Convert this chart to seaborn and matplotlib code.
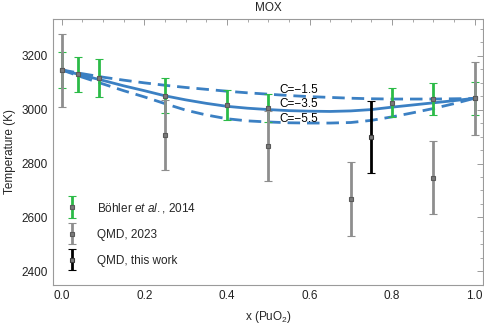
import numpy as np
import pandas as pd
import matplotlib
matplotlib.use("Agg")
import matplotlib.pyplot as plt
import seaborn as sns
from matplotlib.ticker import MultipleLocator
from matplotlib.legend_handler import HandlerErrorbar
from matplotlib.container import ErrorbarContainer

# ---- data ----
boehler_x = [0.0, 0.04, 0.09, 0.25, 0.40, 0.50, 0.80, 0.90, 1.0]
boehler_y = [3147, 3130, 3117, 3052, 3016, 3007, 3026, 3038, 3041]
boehler_err = [68, 65, 70, 64, 55, 52, 53, 60, 60]

qmd23_x = [0.0, 0.25, 0.50, 0.70, 0.90, 1.0]
qmd23_y = [3145, 2905, 2866, 2668, 2748, 3041]
qmd23_err = [136, 130, 130, 136, 136, 135]

qmd_x = [0.75]
qmd_y = [2898]
qmd_err = [135]

curve_x = [0.0, 0.05, 0.1, 0.15, 0.2, 0.25, 0.3, 0.35, 0.4, 0.45, 0.5,
           0.55, 0.6, 0.65, 0.7, 0.75, 0.8, 0.85, 0.9, 0.95, 1.0]
curve_c35 = [3147, 3127, 3108, 3088, 3070, 3051, 3036, 3023, 3012, 3005, 3000,
             2996, 2994, 2993, 2995, 3000, 3009, 3017, 3025, 3033, 3042]
curve_c15 = [3147, 3133, 3120, 3109, 3099, 3090, 3082, 3075, 3068, 3062, 3057,
             3052, 3048, 3045, 3042, 3040, 3039, 3039, 3039, 3040, 3041]
curve_c55 = [3147, 3120, 3095, 3070, 3047, 3022, 2998, 2980, 2966, 2958, 2954,
             2951, 2950, 2950, 2952, 2960, 2973, 2988, 3004, 3022, 3042]

curve_labels = ["C=\u22121.5", "C=\u22123.5", "C=\u22125.5"]
label_y = [3073, 3020, 2964]

# ---- style ----
sns.set_theme(style="white")
plt.rcParams['font.family'] = ['Liberation Sans', 'DejaVu Sans']
plt.rcParams['mathtext.fontset'] = 'custom'
plt.rcParams['mathtext.rm'] = 'Liberation Sans'
plt.rcParams['mathtext.it'] = 'Liberation Sans:italic'

BLUE = "#3b80c3"
GREEN = "#2cbb48"
GRAY = "#8e8e8e"
FRAME = "#9a9a9a"

fig = plt.figure(figsize=(4.84, 3.26), dpi=100)
ax = fig.add_axes([0.1095, 0.126, 0.8885, 0.816])

df = pd.DataFrame({"x": curve_x * 3,
                   "T": curve_c15 + curve_c35 + curve_c55,
                   "C": ["-1.5"] * len(curve_x) + ["-3.5"] * len(curve_x) + ["-5.5"] * len(curve_x)})
sns.lineplot(data=df[df.C == "-3.5"], x="x", y="T", ax=ax, color=BLUE, lw=2.0,
             legend=False, zorder=1)
for c in ["-1.5", "-5.5"]:
    sns.lineplot(data=df[df.C == c], x="x", y="T", ax=ax, color=BLUE, lw=2.0,
                 legend=False, zorder=1, dashes=(4.5, 2.5))
for lab, ly in zip(curve_labels, label_y):
    ax.text(0.527, ly, lab, fontsize=8.5, color="black", va="center", ha="left", zorder=2)

ekw = dict(fmt="s", ms=3.2, elinewidth=2.0, capsize=3.0, capthick=2.0, mew=0.8)
h1 = ax.errorbar(boehler_x, boehler_y, yerr=boehler_err, color=GREEN,
                 mfc="#7a7a7a", mec="#5a5a5a", zorder=3, **ekw)
h2 = ax.errorbar(qmd23_x, qmd23_y, yerr=qmd23_err, color=GRAY,
                 mfc="#7a7a7a", mec="#5a5a5a", zorder=4, **ekw)
h3 = ax.errorbar(qmd_x, qmd_y, yerr=qmd_err, color="black",
                 mfc="#7a7a7a", mec="#3a3a3a", zorder=5, **ekw)

leg = ax.legend([h1, h2, h3],
                [r"Böhler $\it{et\ al.}$, 2014", "QMD, 2023", "QMD, this work"],
                loc="lower left", bbox_to_anchor=(-0.01, 0.01), frameon=False,
                fontsize=8.5, handlelength=1.3, handletextpad=1.5,
                labelspacing=1.2, borderaxespad=0.9,
                handler_map={ErrorbarContainer: HandlerErrorbar(yerr_size=0.9)})

ax.set_xlim(-0.021, 1.02)
ax.set_ylim(2350, 3336)
ax.xaxis.set_major_locator(MultipleLocator(0.2))
ax.xaxis.set_minor_locator(MultipleLocator(0.05))
ax.yaxis.set_major_locator(MultipleLocator(200))
ax.yaxis.set_minor_locator(MultipleLocator(50))
ax.xaxis.set_major_formatter(matplotlib.ticker.FormatStrFormatter("%.1f"))
ax.tick_params(which="both", direction="in", top=True, right=True,
               color=FRAME, labelsize=8.5, labelcolor="#222222")
ax.tick_params(which="major", length=4, width=0.7)
ax.tick_params(which="minor", length=2, width=0.6)
for s in ax.spines.values():
    s.set_color(FRAME)
    s.set_linewidth(0.8)

ax.set_xlabel("x (PuO$_2$)", fontsize=8.5, labelpad=5)
ax.set_ylabel("Temperature (K)", fontsize=8.5, labelpad=4)
ax.set_title("MOX", fontsize=8.5, pad=6)

fig.savefig("out.png", dpi=100)
